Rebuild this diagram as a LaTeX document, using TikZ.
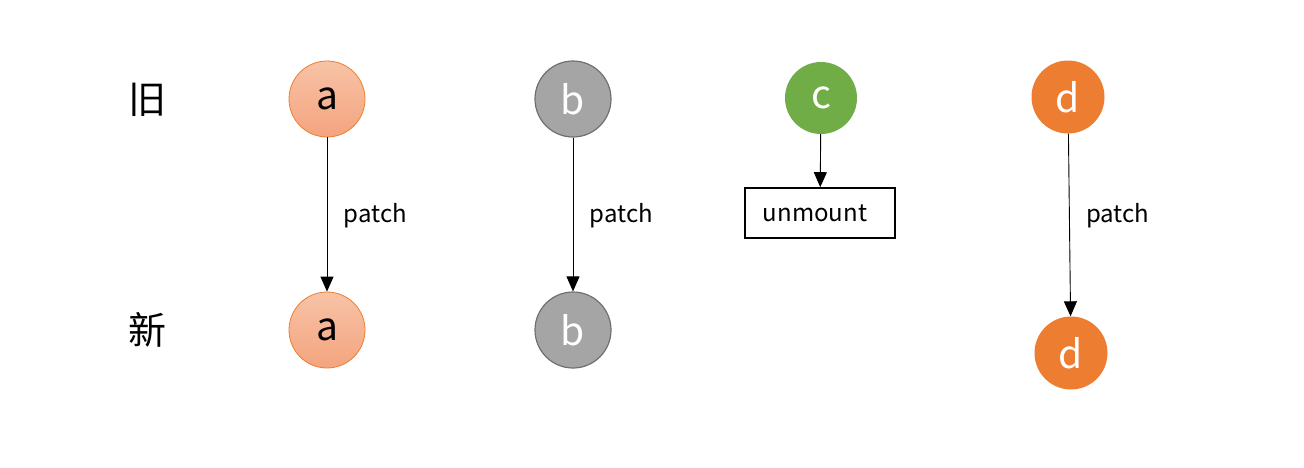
\documentclass[tikz,border=0pt]{standalone}
\usepackage{fontspec}
\setmainfont{Noto Sans CJK SC}
\usetikzlibrary{arrows.meta}
\definecolor{aorange}{HTML}{ED7D31}
\definecolor{atop}{HTML}{F7C3A6}
\definecolor{abot}{HTML}{F4A47F}
\definecolor{bgray}{HTML}{A5A5A5}
\definecolor{bedge}{HTML}{707070}
\definecolor{cgreen}{HTML}{70AD47}
\definecolor{dorange}{HTML}{ED7D31}
\tikzset{
  circ/.style={circle, minimum size=76pt, inner sep=0pt, font=\fontsize{39}{40}\selectfont},
  anode/.style={circ, draw=aorange, line width=0.8pt, top color=atop, bottom color=abot, text=black},
  bnode/.style={circ, draw=bedge, line width=1.2pt, fill=bgray, text=white},
  cnode/.style={circ, minimum size=72pt, fill=cgreen, text=white},
  dnode/.style={circ, minimum size=73pt, fill=dorange, text=white},
  lbl/.style={font=\fontsize{24}{26}\selectfont, anchor=west},
  side/.style={font=\fontsize{38}{40}\selectfont},
  conn/.style={line width=0.9pt, -{Triangle[length=15pt,width=13pt]}},
  box/.style={draw, line width=1.6pt, minimum width=150pt, minimum height=50pt, inner sep=0pt, font=\fontsize{24}{26}\selectfont}
}
\begin{document}
\begin{tikzpicture}[x=1pt,y=-1pt]
\useasboundingbox (0,0) rectangle (1304,467);
\node[side] (old) at (147,100) {旧};
\node[side] (new) at (147,330) {新};
\node[anode] (a1) at (327,99) {a};
\node[anode] (a2) at (327,330) {a};
\node[bnode] (b1) at (573,99) {b};
\node[bnode] (b2) at (573,330) {b};
\node[cnode] (c1) at (821,98) {c};
\node[box] (um) at (820,213) {\hspace*{-10pt}unmount};
\node[dnode] (d1) at (1068,97) {d};
\node[dnode] (d2) at (1071,353) {d};
\draw[conn] (a1) -- (a2) node[lbl, pos=0.5, xshift=13pt, yshift=-1pt] (pa) {patch};
\draw[conn] (b1) -- (b2) node[lbl, pos=0.5, xshift=13pt, yshift=-1pt] (pb) {patch};
\draw[conn] (c1) -- (um);
\draw[conn] (d1) -- (d2) node[lbl, pos=0.45, xshift=13pt] (pd) {patch};
\end{tikzpicture}
\end{document}
